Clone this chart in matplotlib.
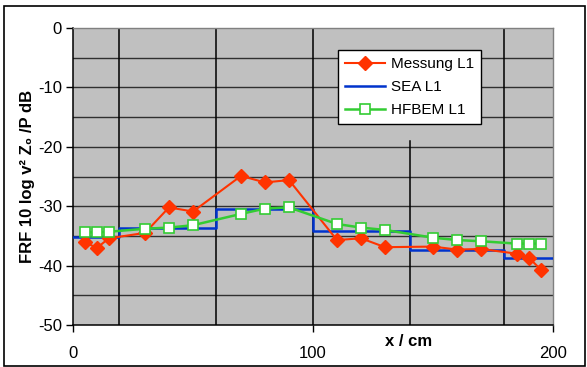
import matplotlib.pyplot as plt
from matplotlib.patches import Rectangle

plt.rcParams['font.family'] = ['Liberation Sans', 'DejaVu Sans']
plt.rcParams['axes.unicode_minus'] = False

# Messung L1
x_mess = [5, 10, 15, 30, 40, 50, 70, 80, 90, 110, 120, 130, 150, 160, 170, 185, 190, 195]
y_mess = [-36.1, -37.0, -35.4, -34.5, -30.2, -30.9, -24.9, -26.0, -25.6,
          -35.7, -35.4, -36.9, -36.8, -37.3, -37.2, -38.0, -38.7, -40.7]

# SEA L1 (Stufen)
x_sea = [0, 19, 59.5, 100, 140.5, 179.5, 200]
y_sea = [-35.2, -33.75, -30.4, -34.1, -37.4, -38.8, -38.8]

# HFBEM L1
x_hfbem = [5, 10, 15, 30, 40, 50, 70, 80, 90, 110, 120, 130, 150, 160, 170, 185, 190, 195]
y_hfbem = [-34.4, -34.4, -34.3, -33.8, -33.6, -33.2, -31.3, -30.4, -30.2,
           -33.0, -33.6, -34.0, -35.3, -35.7, -35.9, -36.3, -36.3, -36.3]

# Teilsystem-Grenzen
grenzen = [19, 59.5, 179.5]

fig = plt.figure(figsize=(5.87, 3.67), dpi=100)
ax = fig.add_axes([73 / 587, 1 - 325 / 367, 480 / 587, 297 / 367])
ax.set_facecolor('#C0C0C0')

for y in range(-45, 0, 5):
    ax.axhline(y, color='#303030', lw=1, zorder=1)
for x in grenzen:
    ax.axvline(x, color='black', lw=1.1, zorder=1)
ax.axvline(100, color='black', lw=1.1, zorder=1)
ax.plot([140.5, 140.5], [-19, -50], color='black', lw=1.1, zorder=1)

ax.plot(x_sea, y_sea, drawstyle='steps-post', color='#0033CC', lw=1.8,
        label='SEA L1', zorder=3)
ax.plot(x_mess, y_mess, color='#FF3300', lw=1.5, marker='D', markersize=7,
        markeredgecolor='#FF3300', label='Messung L1', zorder=4)
ax.plot(x_hfbem, y_hfbem, color='#33CC33', lw=1.8, marker='s', markersize=7,
        markerfacecolor='white', markeredgecolor='#33CC33', markeredgewidth=1.2,
        label='HFBEM L1', zorder=5)

ax.set_xlim(0, 200)
ax.set_ylim(-50, 0)
ax.set_xticks([0, 100, 200])
ax.set_yticks(range(-50, 1, 10))
ax.tick_params(axis='both', labelsize=12, length=5, width=1, direction='out')
ax.tick_params(axis='x', pad=10)
ax.tick_params(axis='y', pad=3)

for s in ['left', 'bottom']:
    ax.spines[s].set_color('black')
    ax.spines[s].set_linewidth(1.1)
for s in ['top', 'right']:
    ax.spines[s].set_color('#808080')
    ax.spines[s].set_linewidth(1)

ax.set_ylabel('FRF 10 log v² Z₀ /P dB', fontsize=12, fontweight='bold', labelpad=2)
ax.text(140, -51.5, 'x / cm', fontsize=12, fontweight='bold', ha='center', va='top')

handles, labels = ax.get_legend_handles_labels()
order = [1, 0, 2]
leg = ax.legend([handles[i] for i in order], [labels[i] for i in order],
                loc='upper left', bbox_to_anchor=(0.552, 0.926), fontsize=11,
                fancybox=False, framealpha=1, edgecolor='black', borderaxespad=0,
                borderpad=0.45, labelspacing=0.6, handlelength=2.6, handletextpad=0.4)
leg.get_frame().set_linewidth(1)
leg.set_zorder(10)

fig.patches.append(Rectangle((4 / 587, 1 / 367), 581 / 587, 360 / 367,
                             transform=fig.transFigure, fill=False,
                             edgecolor='black', lw=1.2))

fig.savefig('out.png', dpi=100)
